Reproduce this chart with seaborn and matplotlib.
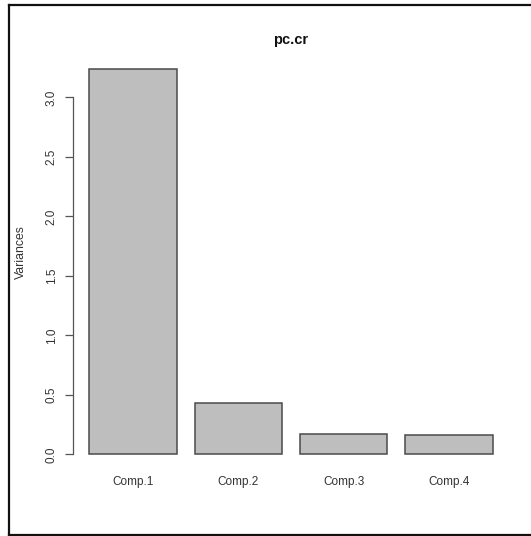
import matplotlib
matplotlib.use("Agg")
import matplotlib.pyplot as plt
import seaborn as sns
import pandas as pd
from matplotlib.lines import Line2D

components = ["Comp.1", "Comp.2", "Comp.3", "Comp.4"]
variances = [3.24, 0.43, 0.17, 0.16]
y_ticks = [0.0, 0.5, 1.0, 1.5, 2.0, 2.5, 3.0]
title = "pc.cr"
y_label = "Variances"

sns.set_theme(style="white")
plt.rcParams["font.family"] = ["Liberation Sans", "DejaVu Sans"]

df = pd.DataFrame({"component": components, "variance": variances})

fig = plt.figure(figsize=(5.31, 5.36), dpi=100)
ax = fig.add_axes([0.1373, 0.1235, 0.8203, 0.777])

sns.barplot(data=df, x="component", y="variance", ax=ax, color="#BEBEBE",
            saturation=1, width=0.833, edgecolor="#4a4a4a", linewidth=1.1)

ax.set_xlim(-0.573, 3.568)
ax.set_ylim(-0.13, 3.37)

for s in ["top", "right", "bottom"]:
    ax.spines[s].set_visible(False)
ax.spines["left"].set_bounds(0, 3.0)
ax.spines["left"].set_color("#555555")
ax.spines["left"].set_linewidth(0.9)

ax.set_yticks(y_ticks)
ax.set_yticklabels([f"{v:.1f}" for v in y_ticks], rotation=90, va="center",
                   fontsize=8.5, color="#333333")
ax.tick_params(axis="y", length=5.5, width=0.9, color="#555555", pad=5.5, left=True)
ax.tick_params(axis="x", length=0, pad=4.5, labelsize=8.5, labelcolor="#333333")

ax.set_xlabel("")
ax.set_ylabel(y_label, fontsize=8.8, color="#333333")
ax.yaxis.set_label_coords(-0.105, 0.522)

ax.set_title(title, fontsize=10.5, fontweight="bold", color="#111111", pad=7)

# outer frame: left, top and bottom edges only (right edge is cut off)
W, H = 531, 536
xl, yt, yb = 9 / W, 1 - 5 / H, 1 / H
for xs, ys in [([xl, xl], [yb, yt]), ([xl, 1.0], [yt, yt]), ([xl, 1.0], [yb, yb])]:
    fig.lines.append(Line2D(xs, ys, transform=fig.transFigure,
                            color="#111111", linewidth=1.6,
                            solid_capstyle="projecting"))

fig.savefig("out.png", dpi=100, facecolor="white")
